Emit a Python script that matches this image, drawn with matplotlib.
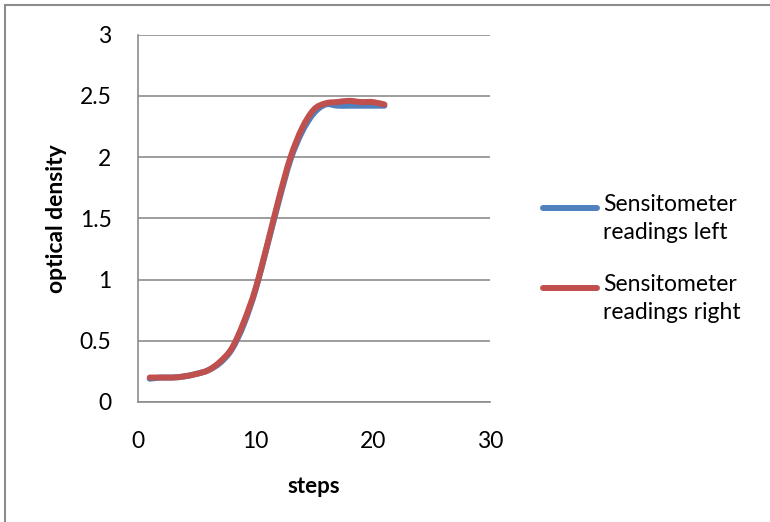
import numpy as np
import matplotlib
matplotlib.use("Agg")
import matplotlib.pyplot as plt
from matplotlib.path import Path
from matplotlib.patches import PathPatch, Rectangle
from matplotlib.lines import Line2D

plt.rcParams["font.family"] = ["Lato", "DejaVu Sans"]

# sensitometer strip readings (optical density per step)
steps = list(range(1, 22))
left = [0.19, 0.20, 0.20, 0.21, 0.23, 0.26, 0.32, 0.43, 0.63, 0.91, 1.27,
        1.64, 1.98, 2.21, 2.36, 2.43, 2.42, 2.42, 2.42, 2.42, 2.42]
right = [0.20, 0.20, 0.20, 0.21, 0.23, 0.26, 0.33, 0.44, 0.65, 0.92, 1.28,
         1.66, 2.00, 2.24, 2.39, 2.44, 2.45, 2.46, 2.45, 2.45, 2.43]
series_names = ["Sensitometer\nreadings left", "Sensitometer\nreadings right"]
colors = ["#4F81BD", "#C0504D"]


def smooth_path(x, y):
    # Excel-style smoothed line: Catmull-Rom segments as cubic Beziers
    x = np.asarray(x, float)
    y = np.asarray(y, float)
    verts = [(x[0], y[0])]
    codes = [Path.MOVETO]
    n = len(x)
    for i in range(n - 1):
        p0 = np.array([x[max(i - 1, 0)], y[max(i - 1, 0)]])
        p1 = np.array([x[i], y[i]])
        p2 = np.array([x[i + 1], y[i + 1]])
        p3 = np.array([x[min(i + 2, n - 1)], y[min(i + 2, n - 1)]])
        c1 = p1 + (p2 - p0) / 6.0
        c2 = p2 - (p3 - p1) / 6.0
        verts += [tuple(c1), tuple(c2), tuple(p2)]
        codes += [Path.CURVE4] * 3
    return Path(verts, codes)


W, H = 770, 522
fig = plt.figure(figsize=(W / 100, H / 100), dpi=100)
ax = fig.add_axes([138 / W, 1 - 402 / H, 352 / W, 367.3 / H])

for vals, c in zip([left, right], colors):
    patch = PathPatch(smooth_path(steps, vals), facecolor="none", edgecolor=c,
                      lw=4.3, capstyle="round", joinstyle="round", zorder=3)
    ax.add_patch(patch)

ax.set_xlim(0, 30)
ax.set_ylim(0, 3)
ax.set_xticks([0, 10, 20, 30])
ax.set_yticks([0, 0.5, 1, 1.5, 2, 2.5, 3])
ax.set_yticklabels(["0", "0.5", "1", "1.5", "2", "2.5", "3"])
ax.yaxis.grid(True, color="#8C8C8C", lw=1.2)
ax.set_axisbelow(True)
for s in ["top", "right"]:
    ax.spines[s].set_visible(False)
for s in ["left", "bottom"]:
    ax.spines[s].set_color("#8C8C8C")
    ax.spines[s].set_linewidth(1.2)
ax.tick_params(length=0, labelsize=16.5, colors="black")
ax.tick_params(axis="y", pad=19)
ax.tick_params(axis="x", pad=21)
ax.set_xlabel("steps", fontsize=16, fontweight="bold", labelpad=17)
ax.set_ylabel("optical density", fontsize=16.5, fontweight="bold", labelpad=9)

# legend drawn Excel-style: swatch level with the first text line
leg_y = [208, 288]
for name, c, yy in zip(series_names, colors, leg_y):
    fig.add_artist(Line2D([543 / W, 597 / W], [1 - yy / H, 1 - yy / H],
                          transform=fig.transFigure, color=c, lw=4.3,
                          solid_capstyle="round"))
    fig.text(603 / W, 1 - (yy - 14) / H, name, fontsize=16.5, va="top",
             ha="left", linespacing=1.4)

# outer chart border (only top/left visible in the crop)
fig.patches.append(Rectangle((5 / W, -0.1), 1.2, 1 - 5 / H + 0.1,
                             transform=fig.transFigure, fill=False,
                             edgecolor="#8C8C8C", lw=1.5))

fig.savefig("out.png", dpi=100)
